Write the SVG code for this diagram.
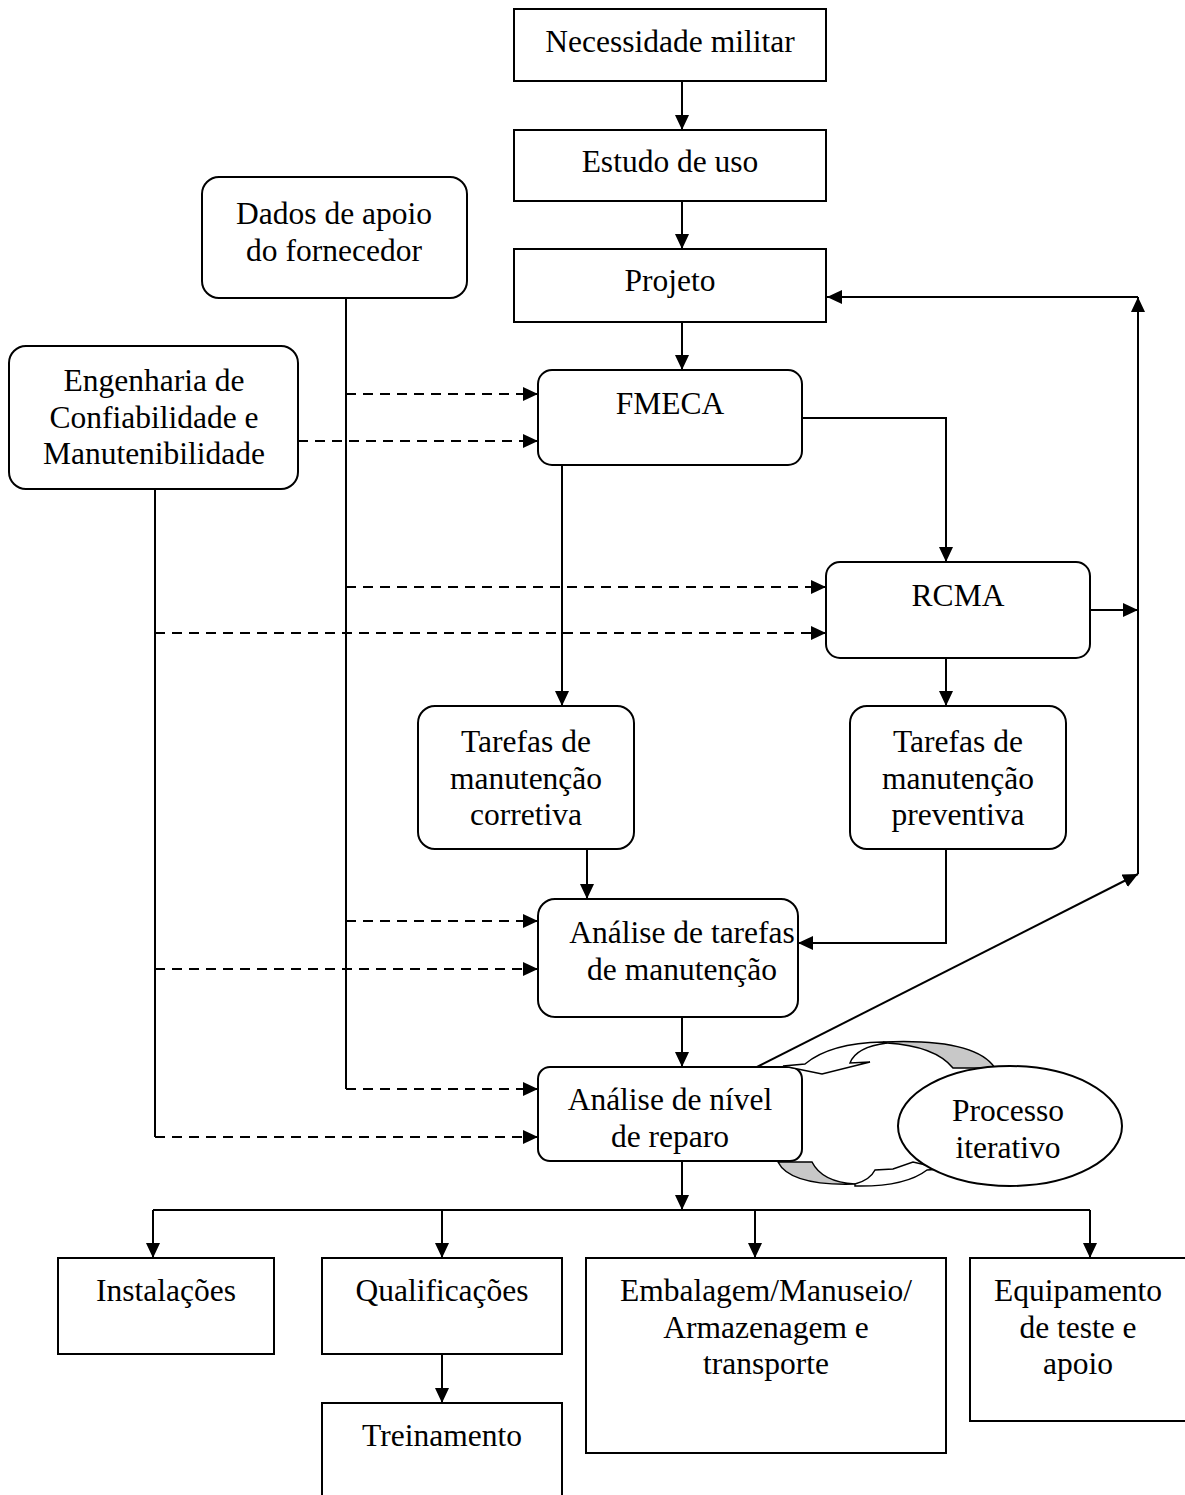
<svg xmlns="http://www.w3.org/2000/svg" width="1185" height="1495" viewBox="0 0 1185 1495">
  <style>
    .box { fill: #fff; stroke: #000; stroke-width: 2; }
    .lbl { font-family: "Liberation Serif", "Times New Roman", serif; font-size: 31.5px; fill: #000; text-anchor: middle; }
    .ln { fill: none; stroke: #000; stroke-width: 2; }
    .arr { fill: none; stroke: #000; stroke-width: 2; marker-end: url(#ah); }
    .dash { fill: none; stroke: #000; stroke-width: 2; stroke-dasharray: 10 7; marker-end: url(#ah); }
    .rib { fill: #fff; stroke: #000; stroke-width: 1.5; stroke-linejoin: miter; }
    .ribBack { fill: #c8c8c8; stroke: #000; stroke-width: 1.5; }
  </style>
  <defs>
    <marker id="ah" viewBox="0 0 15 14" refX="15" refY="7" markerWidth="15" markerHeight="14" markerUnits="userSpaceOnUse" orient="auto">
      <path d="M0,0 L15,7 L0,14 z" fill="#000"/>
    </marker>
  </defs>
  <rect width="1185" height="1495" fill="#fff"/>

  <!-- connectors -->
  <g id="connectors">
    <path class="arr" d="M682,81 V130"/>
    <path class="arr" d="M682,201 V249"/>
    <path class="arr" d="M682,322 V370"/>
    <path class="arr" d="M802,418 H946 V562"/>
    <path class="arr" d="M562,465 V706"/>
    <path class="arr" d="M946,658 V706"/>
    <path class="arr" d="M1090,610 H1138"/>
    <path class="arr" d="M1138,874 V297"/>
    <path class="arr" d="M1138,297 H827"/>
    <path class="arr" d="M587,849 V899"/>
    <path class="arr" d="M946,849 V943 H798"/>
    <path class="arr" d="M682,1017 V1067"/>
    <path class="arr" d="M757,1067 L1138,874"/>
    <path class="arr" d="M682,1161 V1210"/>
    <path class="ln" d="M153,1210 H1090"/>
    <path class="arr" d="M153,1210 V1258"/>
    <path class="arr" d="M442,1210 V1258"/>
    <path class="arr" d="M755,1210 V1258"/>
    <path class="arr" d="M1090,1210 V1258"/>
    <path class="arr" d="M442,1354 V1403"/>
    <!-- supplier data and R&M engineering feeds -->
    <path class="ln" d="M346,298 V1089"/>
    <path class="ln" d="M155,489 V1137"/>
    <path class="dash" d="M346,394 H538"/>
    <path class="dash" d="M298,441 H538"/>
    <path class="dash" d="M346,587 H826"/>
    <path class="dash" d="M155,633 H826"/>
    <path class="dash" d="M346,921 H538"/>
    <path class="dash" d="M155,969 H538"/>
    <path class="dash" d="M346,1089 H538"/>
    <path class="dash" d="M155,1137 H538"/>
  </g>

  <g id="n-necessidade">
    <rect class="box" x="514" y="9" width="312" height="72"/>
    <text class="lbl" x="670" y="52">Necessidade militar</text>
  </g>
  <g id="n-estudo">
    <rect class="box" x="514" y="130" width="312" height="71"/>
    <text class="lbl" x="670" y="172">Estudo de uso</text>
  </g>
  <g id="n-projeto">
    <rect class="box" x="514" y="249" width="312" height="73"/>
    <text class="lbl" x="670" y="291">Projeto</text>
  </g>
  <g id="n-dados">
    <rect class="box" x="202" y="177" width="265" height="121" rx="17"/>
    <text class="lbl" x="334" y="224">Dados de apoio</text>
    <text class="lbl" x="334" y="261">do fornecedor</text>
  </g>
  <g id="n-engenharia">
    <rect class="box" x="9" y="346" width="289" height="143" rx="17"/>
    <text class="lbl" x="154" y="391">Engenharia de</text>
    <text class="lbl" x="154" y="428">Confiabilidade e</text>
    <text class="lbl" x="154" y="464">Manutenibilidade</text>
  </g>
  <g id="n-fmeca">
    <rect class="box" x="538" y="370" width="264" height="95" rx="14"/>
    <text class="lbl" x="670" y="414">FMECA</text>
  </g>
  <g id="n-rcma">
    <rect class="box" x="826" y="562" width="264" height="96" rx="14"/>
    <text class="lbl" x="958" y="606">RCMA</text>
  </g>
  <g id="n-corretiva">
    <rect class="box" x="418" y="706" width="216" height="143" rx="17"/>
    <text class="lbl" x="526" y="752">Tarefas de</text>
    <text class="lbl" x="526" y="789">manutenção</text>
    <text class="lbl" x="526" y="825">corretiva</text>
  </g>
  <g id="n-preventiva">
    <rect class="box" x="850" y="706" width="216" height="143" rx="17"/>
    <text class="lbl" x="958" y="752">Tarefas de</text>
    <text class="lbl" x="958" y="789">manutenção</text>
    <text class="lbl" x="958" y="825">preventiva</text>
  </g>
  <g id="n-analise-tarefas">
    <rect class="box" x="538" y="899" width="260" height="118" rx="17"/>
    <text class="lbl" x="682" y="943">Análise de tarefas</text>
    <text class="lbl" x="682" y="980">de manutenção</text>
  </g>
  <g id="n-analise-nivel">
    <rect class="box" x="538" y="1067" width="264" height="94" rx="12"/>
    <text class="lbl" x="670" y="1110">Análise de nível</text>
    <text class="lbl" x="670" y="1147">de reparo</text>
  </g>

  <!-- circular arrows around the repair-level analysis -->
  <g id="n-ciclo">
    <path class="ribBack" d="M883,1042 Q975,1038 995,1068 L953,1068 Q935,1046 887,1043 Z"/>
    <path class="rib" d="M887,1043 Q856,1047 850,1063 L870,1062 L822,1074 L783,1066 L805,1064 Q830,1043 883,1042 Z"/>
    <path class="ribBack" d="M778,1162 L812,1162 Q822,1182 855,1184 Q790,1186 778,1162 Z"/>
    <path class="rib" d="M855,1184 Q870,1180 875,1170 L893,1169 L913,1162 L943,1169 L927,1170 Q905,1187 855,1186 Z"/>
  </g>
  <g id="n-processo">
    <ellipse class="box" cx="1010" cy="1126" rx="112" ry="60"/>
    <text class="lbl" x="1008" y="1121">Processo</text>
    <text class="lbl" x="1008" y="1158">iterativo</text>
  </g>

  <g id="n-instalacoes">
    <rect class="box" x="58" y="1258" width="216" height="96"/>
    <text class="lbl" x="166" y="1301">Instalações</text>
  </g>
  <g id="n-qualificacoes">
    <rect class="box" x="322" y="1258" width="240" height="96"/>
    <text class="lbl" x="442" y="1301">Qualificações</text>
  </g>
  <g id="n-treinamento">
    <rect class="box" x="322" y="1403" width="240" height="100"/>
    <text class="lbl" x="442" y="1446">Treinamento</text>
  </g>
  <g id="n-embalagem">
    <rect class="box" x="586" y="1258" width="360" height="195"/>
    <text class="lbl" x="766" y="1301">Embalagem/Manuseio/</text>
    <text class="lbl" x="766" y="1338">Armazenagem e</text>
    <text class="lbl" x="766" y="1374">transporte</text>
  </g>
  <g id="n-equipamento">
    <rect class="box" x="970" y="1258" width="220" height="163"/>
    <text class="lbl" x="1078" y="1301">Equipamento</text>
    <text class="lbl" x="1078" y="1338">de teste e</text>
    <text class="lbl" x="1078" y="1374">apoio</text>
  </g>
</svg>
